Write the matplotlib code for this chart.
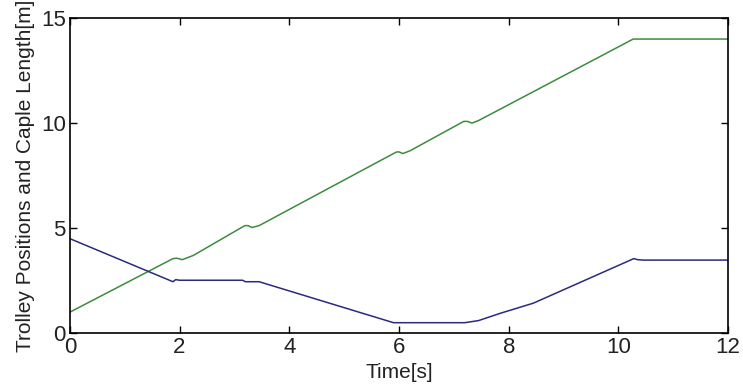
import matplotlib
matplotlib.use("Agg")
import matplotlib.pyplot as plt

# cable length (green) and trolley position (blue) vs time
t_cable = [0, 1.88, 1.95, 2.05, 2.25, 3.19, 3.25, 3.32, 3.45, 5.95, 6.0, 6.07, 6.2,
           7.18, 7.25, 7.33, 7.45, 10.27, 12]
cable = [1.0, 3.55, 3.57, 3.5, 3.7, 5.12, 5.12, 5.03, 5.12, 8.62, 8.63, 8.55, 8.68,
         10.08, 10.08, 10.0, 10.12, 14.0, 14.0]

t_trolley = [0, 1.88, 1.93, 2.0, 3.15, 3.2, 3.45, 5.9, 7.2, 7.45, 7.85, 8.45,
             10.28, 10.35, 10.45, 12]
trolley = [4.5, 2.45, 2.55, 2.52, 2.52, 2.45, 2.45, 0.5, 0.5, 0.6, 0.95, 1.43,
           3.55, 3.5, 3.48, 3.48]

xticks = [0, 2, 4, 6, 8, 10, 12]
yticks = [0, 5, 10, 15]

plt.rcParams['font.family'] = ['Liberation Sans', 'DejaVu Sans']

fig = plt.figure(figsize=(7.43, 3.92), dpi=100)
ax = fig.add_axes([0.094, 0.150, 0.886, 0.804])

ax.plot(t_cable, cable, color="#3c8c3c", lw=1.1)
ax.plot(t_trolley, trolley, color="#2a2a80", lw=1.1)

ax.set_xlim(0, 12)
ax.set_ylim(0, 15)
ax.set_xticks(xticks)
ax.set_yticks(yticks)
ax.tick_params(direction="in", top=True, right=True, length=5, width=1,
               labelsize=16, pad=3, labelcolor="#222222")
for s in ax.spines.values():
    s.set_linewidth(1.2)

ax.set_xlabel("Time[s]", fontsize=15, labelpad=3, color="#222222")
ax.set_ylabel("Trolley Positions and Caple Length[m]", fontsize=15, labelpad=4,
              color="#222222")

fig.savefig("out.png", dpi=100)
